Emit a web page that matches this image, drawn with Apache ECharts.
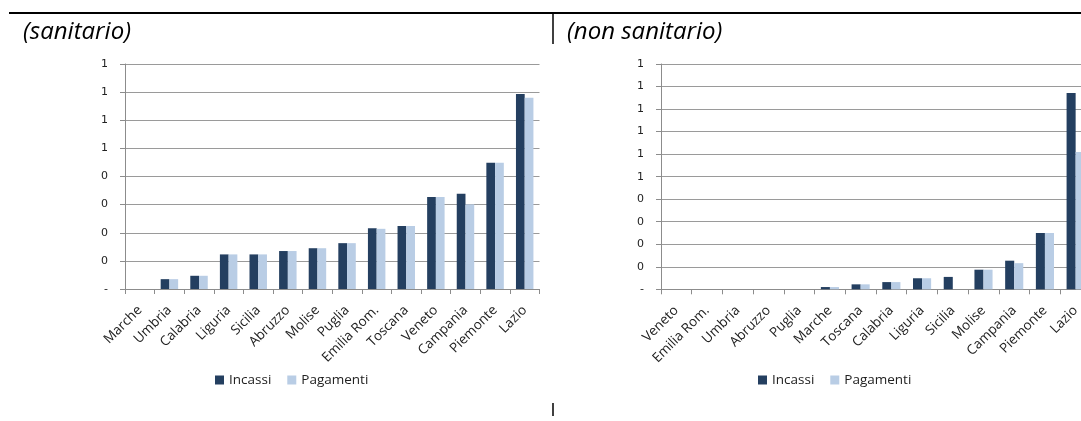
<!DOCTYPE html>
<html><head><meta charset="utf-8">
<script src="https://cdn.jsdelivr.net/npm/echarts@6/dist/echarts.min.js"></script>
<style>html,body{margin:0;padding:0;overflow:hidden;background:#fff}#c{width:1100px;height:421px}</style>
</head><body><div id="c"></div>
<script>
// ---- data ----
const leftCategories = ['Marche','Umbria','Calabria','Liguria','Sicilia','Abruzzo','Molise','Puglia','Emilia Rom.','Toscana','Veneto','Campania','Piemonte','Lazio'];
const leftIncassi   = [0, 0.035, 0.047, 0.123, 0.123, 0.135, 0.145, 0.163, 0.216, 0.224, 0.327, 0.339, 0.449, 0.693];
const leftPagamenti = [0, 0.035, 0.047, 0.123, 0.123, 0.135, 0.145, 0.163, 0.214, 0.224, 0.327, 0.301, 0.449, 0.680];
const leftTickLabels = ['-','0','0','0','0','1','1','1','1'];

const rightCategories = ['Veneto','Emilia Rom.','Umbria','Abruzzo','Puglia','Marche','Toscana','Calabria','Liguria','Sicilia','Molise','Campania','Piemonte','Lazio'];
const rightIncassi   = [0, 0, 0, 0, 0, 0.010, 0.022, 0.032, 0.049, 0.055, 0.087, 0.127, 0.250, 0.871];
const rightPagamenti = [0, 0, 0, 0, 0, 0.010, 0.022, 0.032, 0.049, 0,     0.087, 0.116, 0.250, 0.609];
const rightTickLabels = ['-','0','0','0','0','1','1','1','1','1','1'];

const seriesNames = ['Incassi','Pagamenti'];
const titles = ['(sanitario)','(non sanitario)'];

// ---- styles ----
const DARK = '#243F60', LIGHT = '#B9CDE5';
const GRID = '#9a9a9a', AXIS = '#8c8c8c', TXT = '#222';

function tickFmt(arr){ return function(v){ const i = Math.round(v/0.1); return arr[i] !== undefined ? arr[i] : ''; }; }

function xAxis(gi, cats){
  return {type:'category', gridIndex:gi, data:cats,
    axisLine:{lineStyle:{color:AXIS,width:1}},
    axisTick:{show:true, length:5, lineStyle:{color:AXIS}},
    axisLabel:{rotate:45, interval:0, margin:19, fontFamily:'Open Sans', fontSize:13.5, color:TXT}};
}
function yAxis(gi, max, ticks){
  return {type:'value', gridIndex:gi, min:0, max:max, interval:0.1,
    axisLine:{show:true, lineStyle:{color:AXIS}},
    axisTick:{show:true, length:5, lineStyle:{color:AXIS}},
    splitLine:{lineStyle:{color:GRID,width:1}},
    axisLabel:{formatter:tickFmt(ticks), fontFamily:'DejaVu Sans', fontSize:11, color:TXT, margin:17}};
}
function bar(name, gi, data, color){
  return {name:name, type:'bar', xAxisIndex:gi, yAxisIndex:gi, data:data,
    barGap:'0%', barCategoryGap:'41%', itemStyle:{color:color}, animation:false, silent:true};
}
const legendStyle = {itemWidth:9, itemHeight:9, itemGap:16, icon:'rect',
  textStyle:{fontFamily:'Open Sans', fontSize:13.5, color:TXT}};

const chart = echarts.init(document.getElementById('c'), null, {renderer:'canvas'});
chart.setOption({
  animation:false,
  grid:[
    {left:125, top:64, width:414.5, height:225, containLabel:false},
    {left:661, top:64, width:430, height:225.3, containLabel:false}
  ],
  xAxis:[xAxis(0, leftCategories), xAxis(1, rightCategories)],
  yAxis:[yAxis(0, 0.8, leftTickLabels), yAxis(1, 1.0, rightTickLabels)],
  legend:[
    Object.assign({data:seriesNames, left:210, top:368}, legendStyle),
    Object.assign({data:seriesNames, left:753, top:368}, legendStyle)
  ],
  series:[
    bar(seriesNames[0], 0, leftIncassi, DARK),
    bar(seriesNames[1], 0, leftPagamenti, LIGHT),
    bar(seriesNames[0], 1, rightIncassi, DARK),
    bar(seriesNames[1], 1, rightPagamenti, LIGHT)
  ],
  graphic:[
    {type:'line', shape:{x1:9, y1:13, x2:1100, y2:13}, style:{stroke:'#000', lineWidth:2}},
    {type:'line', shape:{x1:553, y1:13, x2:553, y2:44}, style:{stroke:'#000', lineWidth:1.5}},
    {type:'line', shape:{x1:553, y1:403, x2:553, y2:416}, style:{stroke:'#000', lineWidth:1.5}},
    {type:'text', left:23, top:20, style:{text:titles[0], fontStyle:'italic', fontSize:24, fontFamily:'Open Sans', fill:'#000'}},
    {type:'text', left:567, top:20, style:{text:titles[1], fontStyle:'italic', fontSize:24, fontFamily:'Open Sans', fill:'#000'}}
  ]
});
</script></body></html>
